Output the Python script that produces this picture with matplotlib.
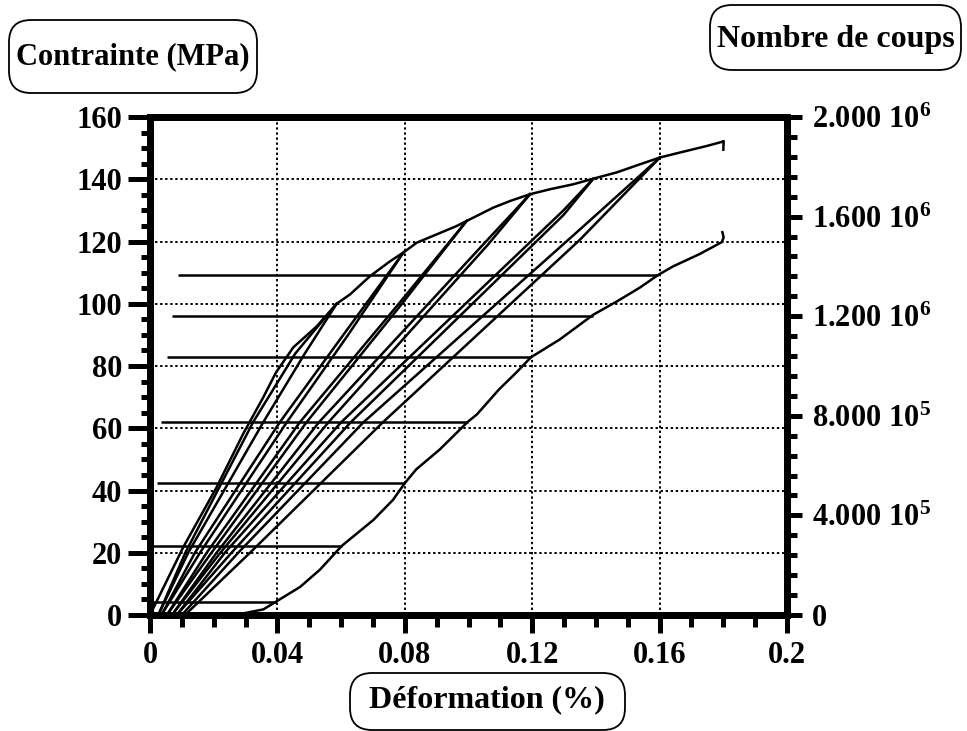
import matplotlib
matplotlib.use('Agg')
import matplotlib.pyplot as plt
from matplotlib.patches import FancyBboxPatch
from matplotlib.ticker import MultipleLocator

plt.rcParams['font.family'] = ['Liberation Serif', 'DejaVu Serif']
plt.rcParams['font.weight'] = 'bold'
plt.rcParams['mathtext.fontset'] = 'custom'
plt.rcParams['mathtext.rm'] = 'Liberation Serif:bold'
plt.rcParams['mathtext.it'] = 'Liberation Serif:bold'
plt.rcParams['mathtext.bf'] = 'Liberation Serif:bold'

# courbe enveloppe (charge)
env_x = [0.0, 0.0104, 0.0209, 0.0293, 0.0356, 0.0396, 0.045, 0.0523, 0.0586, 0.0628, 0.069, 0.0753,
         0.0796, 0.0837, 0.09, 0.0963, 0.0994, 0.1078, 0.113, 0.1193, 0.1256, 0.1329, 0.1392, 0.1465,
         0.1538, 0.1601, 0.1664, 0.1748, 0.1795, 0.1801, 0.18]
env_y = [0, 21.7, 41, 58.3, 70, 78, 86, 92.7, 100, 103, 108.8, 113.6,
         116.5, 119.6, 122.3, 125, 126.6, 130.9, 133, 135.2, 136.8, 138.4, 140.2, 142.2,
         144.8, 147, 148.6, 150.7, 152, 152.3, 149.5]

# boucles decharge / recharge
loop_a1_x = [0.0026, 0.0111, 0.0324, 0.0456, 0.0586]
loop_a1_y = [0, 20, 62, 84, 100]
loop_a2_x = [0.0026, 0.012, 0.0356, 0.0486, 0.0586]
loop_a2_y = [0, 20, 62, 84, 100]
loop_b1_x = [0.0036, 0.0141, 0.0408, 0.0607, 0.0796]
loop_b1_y = [0, 20, 62, 90, 116.5]
loop_b2_x = [0.0036, 0.0157, 0.043, 0.0622, 0.0796]
loop_b2_y = [0, 20, 62, 90, 116.5]
loop_c1_x = [0.0053, 0.0178, 0.0471, 0.0781, 0.0994]
loop_c1_y = [0, 20, 62, 100, 126.6]
loop_c2_x = [0.0053, 0.0193, 0.0492, 0.0791, 0.0994]
loop_c2_y = [0, 20, 62, 100, 126.6]
loop_d1_x = [0.0069, 0.0209, 0.0531, 0.1051, 0.1193]
loop_d1_y = [0, 20, 62, 119.6, 135.2]
loop_d2_x = [0.0069, 0.0221, 0.0561, 0.1061, 0.1193]
loop_d2_y = [0, 20, 62, 119, 135.2]
loop_e1_x = [0.0084, 0.0235, 0.0601, 0.1298, 0.1392]
loop_e1_y = [0, 20, 62, 130, 140.2]
loop_e2_x = [0.0084, 0.0256, 0.0631, 0.1298, 0.1392]
loop_e2_y = [0, 20, 62, 128.5, 140.2]
loop_f1_x = [0.01, 0.0277, 0.0671, 0.135, 0.1601]
loop_f1_y = [0, 20, 62, 123.9, 147]
loop_f2_x = [0.011, 0.0314, 0.0732, 0.135, 0.1601]
loop_f2_y = [0, 20, 62, 120.6, 147]

# paliers horizontaux
pal_y = [4.3, 22.2, 42.5, 62.1, 82.8, 96.0, 109.3]
pal_x0 = [0.0009, 0.0011, 0.0021, 0.0036, 0.0052, 0.007, 0.0089]
pal_x1 = [0.0396, 0.0602, 0.0801, 0.0998, 0.1196, 0.1392, 0.1596]

# courbe inferieure
low_x = [0.02, 0.0292, 0.0356, 0.0396, 0.0471, 0.0533, 0.0602, 0.0701, 0.0763, 0.0801, 0.0836, 0.091,
         0.0998, 0.1026, 0.1096, 0.1151, 0.1196, 0.1286, 0.1392, 0.1465, 0.1538, 0.1596, 0.1642,
         0.1726, 0.1795, 0.1801, 0.1797]
low_y = [0, 0.5, 1.8, 4.3, 9, 14.5, 22.2, 30.5, 37, 42.5, 46.8, 53.2,
         62.1, 64.4, 72.5, 78, 82.8, 88.5, 96.5, 100.7, 105.2, 109.3, 112,
         116, 119.8, 121.3, 123]

x_ticks = [0, 0.04, 0.08, 0.12, 0.16, 0.2]
x_labels = ['0', '0.04', '0.08', '0.12', '0.16', '0.2']
y_ticks = [0, 20, 40, 60, 80, 100, 120, 140, 160]
y2_ticks = [0, 4e5, 8e5, 1.2e6, 1.6e6, 2e6]
y2_labels = ['0', r'4.000 10$^{5}$', r'8.000 10$^{5}$', r'1.200 10$^{6}$', r'1.600 10$^{6}$', r'2.000 10$^{6}$']

fig = plt.figure(figsize=(9.67, 7.31), dpi=100)
ax = fig.add_axes([0.1551, 0.1587, 0.6588, 0.6812])
lw = 1.8
ax.plot(env_x, env_y, color='black', lw=lw)
loops = [(loop_a1_x, loop_a1_y), (loop_a2_x, loop_a2_y), (loop_b1_x, loop_b1_y), (loop_b2_x, loop_b2_y),
         (loop_c1_x, loop_c1_y), (loop_c2_x, loop_c2_y), (loop_d1_x, loop_d1_y), (loop_d2_x, loop_d2_y),
         (loop_e1_x, loop_e1_y), (loop_e2_x, loop_e2_y), (loop_f1_x, loop_f1_y), (loop_f2_x, loop_f2_y)]
for lx, ly in loops:
    ax.plot(lx, ly, color='black', lw=lw)
ax.hlines(pal_y, pal_x0, pal_x1, color='black', lw=lw)
ax.plot(low_x, low_y, color='black', lw=lw)

ax.set_xlim(0, 0.2)
ax.set_ylim(0, 160)
ax.set_xticks(x_ticks)
ax.set_xticklabels(x_labels)
ax.set_yticks(y_ticks)
ax.xaxis.set_minor_locator(MultipleLocator(0.01))
ax.yaxis.set_minor_locator(MultipleLocator(5))
ax.grid(True, which='major', color='black', linestyle=(0, (1.2, 1.4)), linewidth=1.4)
ax.tick_params(axis='x', which='major', direction='out', length=13, width=3.6, labelsize=22, pad=6)
ax.tick_params(axis='x', which='minor', direction='out', length=8.5, width=3.6)
ax.tick_params(axis='y', which='major', direction='out', length=16, width=3.6, labelsize=22, pad=4)
ax.tick_params(axis='y', which='minor', direction='out', length=6.5, width=3.6)
for s in ax.spines.values():
    s.set_linewidth(5)

ax2 = ax.twinx()
ax2.set_ylim(0, 2e6)
ax2.set_yticks(y2_ticks)
ax2.set_yticklabels(y2_labels)
ax2.yaxis.set_minor_locator(MultipleLocator(8e4))
ax2.tick_params(axis='y', which='major', direction='out', length=11, width=3.6, labelsize=22, pad=7)
ax2.tick_params(axis='y', which='minor', direction='out', length=7, width=3.6)
for s in ax2.spines.values():
    s.set_linewidth(5)

# etiquettes encadrees
boxes = [((0.09, 6.38), 2.48, 0.73), ((7.10, 6.61), 2.51, 0.65), ((3.50, 0.01), 2.75, 0.57)]
for (bx, by), bw, bh in boxes:
    fig.add_artist(FancyBboxPatch((bx, by), bw, bh, boxstyle='round,pad=0,rounding_size=0.22',
                                  transform=fig.dpi_scale_trans, fill=False, ec='black', lw=1.3))
fig.text(0.1375, 0.922, 'Contrainte (MPa)', ha='center', va='center', fontsize=22)
fig.text(0.8645, 0.9453, 'Nombre de coups', ha='center', va='center', fontsize=23)
fig.text(0.5036, 0.0424, 'Déformation (%)', ha='center', va='center', fontsize=23)

fig.savefig('out.png', dpi=100)
